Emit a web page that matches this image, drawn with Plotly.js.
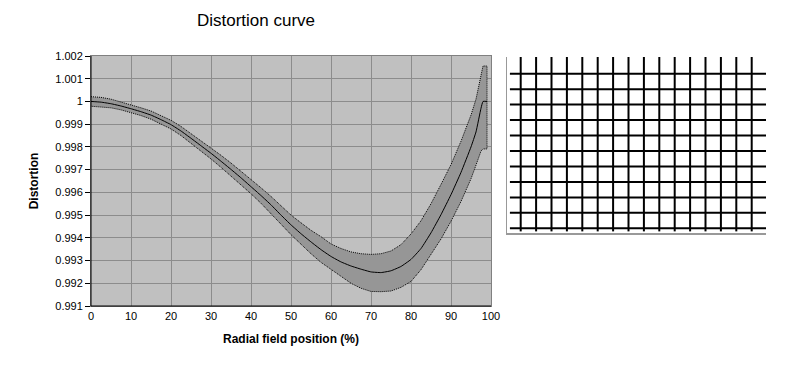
<!DOCTYPE html>
<html>
<head>
<meta charset="utf-8">
<script src="https://cdn.plot.ly/plotly-3.0.1.min.js"></script>
<style>html,body{margin:0;padding:0;background:#fff;}#chart{width:809px;height:368px;}</style>
</head>
<body>
<div id="chart"></div>
<script>
// Radial field position (%)
var xPos = [0,2.5,5,7.5,10,12.5,15,17.5,20,22.5,25,27.5,30,32.5,35,37.5,40,42.5,45,47.5,50,52.5,55,57.5,60,62.5,65,67.5,70,72.5,75,77.5,80,82.5,85,87.5,90,92.5,95,96.25,97.5,98,99];
// Mean distortion
var meanVals = [1.0000,0.99997,0.99990,0.99980,0.99968,0.99955,0.99940,0.99920,0.99898,0.99870,0.99838,0.99805,0.99772,0.99737,0.99701,0.99664,0.99625,0.99586,0.99545,0.99500,0.99457,0.99418,0.99382,0.99348,0.99318,0.99294,0.99276,0.99262,0.99250,0.99247,0.99255,0.99274,0.99305,0.99353,0.99422,0.99502,0.99590,0.99688,0.99800,0.99866,0.99970,1.00000,1.00000];
// Upper bound of band
var upperVals = [1.00021,1.00018,1.00010,0.99998,0.99984,0.99972,0.99958,0.99939,0.99917,0.99890,0.99859,0.99828,0.99796,0.99763,0.99729,0.99694,0.99656,0.99620,0.99582,0.99541,0.99500,0.99466,0.99433,0.99405,0.99373,0.99353,0.99338,0.99330,0.99327,0.99330,0.99342,0.99370,0.99417,0.99475,0.99550,0.99635,0.99722,0.99825,0.99940,1.00010,1.00110,1.00156,1.00156];
// Lower bound of band
var lowerVals = [0.99979,0.99976,0.99972,0.99963,0.99951,0.99938,0.99922,0.99901,0.99879,0.99850,0.99817,0.99782,0.99747,0.99710,0.99673,0.99634,0.99594,0.99552,0.99508,0.99460,0.99414,0.99370,0.99330,0.99292,0.99262,0.99230,0.99200,0.99178,0.99164,0.99163,0.99166,0.99182,0.99208,0.99260,0.99325,0.99395,0.99473,0.99560,0.99660,0.99720,0.99782,0.99791,0.99791];

// Tick labels
var yTickVals = [0.991,0.992,0.993,0.994,0.995,0.996,0.997,0.998,0.999,1.000,1.001,1.002];
var yTickText = ["0.991","0.992","0.993","0.994","0.995","0.996","0.997","0.998","0.999","1","1.001","1.002"];
var xTickVals = [0,10,20,30,40,50,60,70,80,90,100];

// Distorted grid target picture (column / row indices of grid lines)
var gridCols = [1,2,3,4,5,6,7,8,9,10,11,12,13,14,15,16];
var gridRows = [1,2,3,4,5,6,7,8,9,10,11];

var W = 809, H = 368;
var FONT = "Liberation Sans, Arial, sans-serif";

// band polygon built from upper + reversed lower
var bandX = xPos.concat(xPos.slice().reverse());
var bandY = upperVals.concat(lowerVals.slice().reverse());

var traces = [];
traces.push({
  x: bandX, y: bandY, type: 'scatter', mode: 'lines', fill: 'toself',
  fillcolor: '#969696', line: {color: '#000', width: 1, dash: '1px,1px'},
  hoverinfo: 'skip', showlegend: false, xaxis: 'x', yaxis: 'y'
});
traces.push({
  x: xPos, y: meanVals, type: 'scatter', mode: 'lines',
  line: {color: '#000', width: 1, shape: 'spline', smoothing: 0.4},
  showlegend: false, xaxis: 'x', yaxis: 'y'
});

// grid picture: vertical lines
var gx = [], gy = [];
gridCols.forEach(function(c){ gx.push(c, c, null); gy.push(-0.1, 11.2, null); });
var hx = [], hy = [];
gridRows.forEach(function(r){ hx.push(0.3, 16.95, null); hy.push(r, r, null); });
traces.push({x: gx, y: gy, type: 'scatter', mode: 'lines', line: {color: '#000', width: 2},
  hoverinfo: 'skip', showlegend: false, xaxis: 'x2', yaxis: 'y2'});
traces.push({x: hx, y: hy, type: 'scatter', mode: 'lines', line: {color: '#000', width: 2},
  hoverinfo: 'skip', showlegend: false, xaxis: 'x2', yaxis: 'y2'});

var plotL = 91, plotR = 491, plotT = 56, plotB = 306;
var gL = 507, gR = 766, gT = 57, gB = 233;

var layout = {
  width: W, height: H,
  margin: {l: 0, r: 0, t: 0, b: 0},
  paper_bgcolor: '#fff', plot_bgcolor: '#fff',
  font: {family: FONT, size: 11, color: '#000'},
  title: {text: 'Distortion curve', x: 256 / W, xanchor: 'center', y: 1 - 20 / H, yanchor: 'middle',
    font: {family: FONT, size: 17, color: '#000'}},
  xaxis: {
    domain: [plotL / W, plotR / W], range: [0, 100], tickvals: xTickVals,
    showgrid: true, gridcolor: '#8c8c8c', gridwidth: 1,
    showline: true, linecolor: '#808080', linewidth: 1, mirror: true,
    ticks: '', zeroline: false, fixedrange: true,
    tickfont: {family: FONT, size: 11, color: '#000'},
    title: {text: '<b>Radial field position (%)</b>', font: {family: FONT, size: 12, color: '#000'}, standoff: 13},
    automargin: false
  },
  yaxis: {
    domain: [1 - plotB / H, 1 - plotT / H], range: [0.991, 1.002],
    tickvals: yTickVals, ticktext: yTickText,
    showgrid: true, gridcolor: '#8c8c8c', gridwidth: 1,
    showline: true, linecolor: '#808080', linewidth: 1, mirror: true,
    ticks: 'outside', ticklen: 5, tickcolor: '#000', zeroline: false, fixedrange: true,
    tickfont: {family: FONT, size: 11, color: '#000'},
    title: {text: '<b>Distortion</b>', font: {family: FONT, size: 12, color: '#000'}, standoff: 14},
    automargin: false
  },
  xaxis2: {
    domain: [gL / W, gR / W], range: [1 - 13.7 / 15.4, 1 + (gR - 520.7) / 15.4],
    showgrid: false, zeroline: false, showticklabels: false, ticks: '',
    showline: true, linecolor: '#999', linewidth: 1.5, anchor: 'y2', fixedrange: true
  },
  yaxis2: {
    domain: [1 - gB / H, 1 - gT / H], range: [1 + (gB - 73.7) / 15.46, 1 - (73.7 - gT) / 15.46],
    showgrid: false, zeroline: false, showticklabels: false, ticks: '',
    showline: true, linecolor: '#999', linewidth: 1.5, anchor: 'x2', fixedrange: true
  },
  shapes: [
    {type: 'rect', xref: 'x domain', yref: 'y domain', x0: 0, x1: 1, y0: 0, y1: 1, layer: 'below',
      fillcolor: '#c0c0c0', line: {width: 0}},
    {type: 'line', xref: 'paper', yref: 'paper', x0: plotL / W, x1: plotL / W, y0: 1 - plotB / H, y1: 1 - plotT / H,
      line: {color: '#000', width: 1}},
    {type: 'line', xref: 'paper', yref: 'paper', x0: plotL / W, x1: plotR / W, y0: 1 - plotB / H, y1: 1 - plotB / H,
      line: {color: '#000', width: 1}}
  ]
};

Plotly.newPlot('chart', traces, layout, {displayModeBar: false, staticPlot: true});
</script>
</body>
</html>
